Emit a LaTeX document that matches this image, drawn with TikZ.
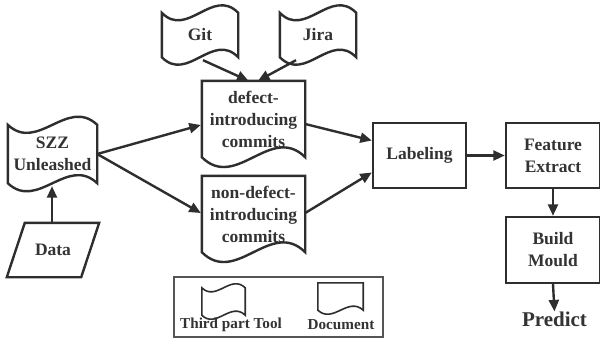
\documentclass[tikz,border=0pt]{standalone}
\usepackage{fontspec}
\setmainfont{Liberation Serif}
\usetikzlibrary{arrows.meta,calc}
\definecolor{ln}{HTML}{2E2E2E}
\definecolor{tx}{HTML}{333333}
\definecolor{lg}{HTML}{555555}
\newcommand{\tapeoutline}[3]{%
  \draw[#3] (#1.north west) .. controls ($(#1.north west)!0.3333!(#1.north east)+(0,#2)$) and ($(#1.north west)!0.6667!(#1.north east)+(0,-#2)$) .. (#1.north east)
    -- (#1.south east) .. controls ($(#1.south west)!0.6667!(#1.south east)+(0,-#2)$) and ($(#1.south west)!0.3333!(#1.south east)+(0,#2)$) .. (#1.south west) -- cycle;}
\newcommand{\docoutline}[3]{%
  \draw[#3] (#1.north west) -- (#1.north east)
    -- (#1.south east) .. controls ($(#1.south west)!0.6667!(#1.south east)+(0,-#2)$) and ($(#1.south west)!0.3333!(#1.south east)+(0,#2)$) .. (#1.south west) -- cycle;}
\begin{document}
\begin{tikzpicture}[x=1pt,y=-1pt,
  lbl/.style={font=\fontsize{17.5}{22}\selectfont\bfseries, text=tx, align=center, inner sep=0pt},
  leg/.style={font=\fontsize{15.2}{17}\selectfont\bfseries, text=tx, align=center, inner sep=0pt},
  shp/.style={draw=ln, line width=2.4pt, line join=miter},
  thin/.style={draw=ln, line width=1.6pt},
  arr/.style={draw=ln, line width=2.4pt, -{Triangle[length=11.5pt,width=10pt]}},
  ]
\useasboundingbox (0,0) rectangle (600,341);
\fill[white] (0,0) rectangle (600,341);

% nodes
\node[lbl, minimum width=76pt, minimum height=44pt] (git) at (200,35) {Git};
\node[lbl, minimum width=76pt, minimum height=44pt] (jira) at (318,35) {Jira};
\node[lbl, minimum width=89pt, minimum height=58pt] (szz) at (52.5,154) {SZZ\\Unleashed};
\node[lbl, minimum width=74pt, minimum height=54pt] (data) at (53,250) {Data};
\node[lbl, minimum width=103pt, minimum height=76pt] (def) at (253.5,119) {defect-\\introducing\\commits};
\node[lbl, minimum width=103pt, minimum height=76pt] (ndef) at (253.5,214) {non-defect-\\introducing\\commits};
\node[lbl, shp, minimum width=93pt, minimum height=65pt] (lab) at (419.5,155.5) {Labeling};
\node[lbl, shp, minimum width=94pt, minimum height=65pt] (feat) at (553,155.5) {Feature\\Extract};
\node[lbl, shp, minimum width=94pt, minimum height=66pt] (build) at (553,250) {Build\\Mould};
\node[font=\fontsize{21}{24}\selectfont\bfseries, text=tx, inner sep=0pt] (pred) at (554.5,319) {Predict};

% outlines
\tapeoutline{git}{26}{shp}
\tapeoutline{jira}{26}{shp}
\tapeoutline{szz}{28}{shp}
\docoutline{def}{34}{shp}
\docoutline{ndef}{34}{shp}
\draw[shp] ($(data.north west)+(9,0)$) -- ($(data.north east)+(9,0)$) -- ($(data.south east)+(-9,0)$) -- ($(data.south west)+(-9,0)$) -- cycle;

% legend
\node[draw=lg, line width=1.2pt, minimum width=209pt, minimum height=60pt, inner sep=0pt] (legbox) at (278.5,307) {};
\node[minimum width=43pt, minimum height=27pt, inner sep=0pt] (legtape) at (223.5,301.5) {};
\tapeoutline{legtape}{14}{thin}
\node[minimum width=45pt, minimum height=27pt, inner sep=0pt] (legdoc) at (340.5,296.5) {};
\docoutline{legdoc}{14}{thin}
\node[leg] (legt1) at (231,325) {Third part Tool};
\node[leg] (legt2) at (341,325) {Document};

% connectors
\draw[arr] ($(git.south)+(3,3)$) -- ($(def.north)+(-5,0)$);
\draw[arr] ($(jira.south)+(-22,3)$) -- ($(def.north)+(4.5,0)$);
\draw[arr] ($(data.north)+(-1,0)$) -- ($(szz.south)+(-0.5,3)$);
\draw[arr] (szz.east) -- ($(def.west)+(-1,6)$);
\draw[arr] (szz.east) -- ($(ndef.west)+(-1,-1)$);
\draw[arr] ($(def.east)+(0,5)$) -- ($(lab.west)+(0,-15)$);
\draw[arr] ($(ndef.east)+(0,-1)$) -- ($(lab.west)+(0,17)$);
\draw[arr] (lab.east) -- (feat.west);
\draw[arr] (feat.south) -- (build.north);
\draw[arr] (build.south) -- (pred.north);
\end{tikzpicture}
\end{document}
